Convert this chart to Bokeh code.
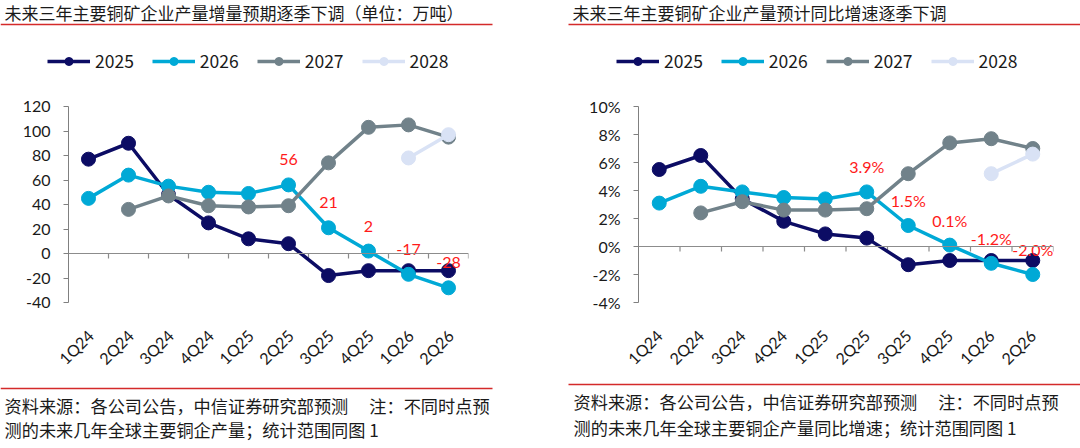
import math
from bokeh.plotting import figure
from bokeh.models import (Range1d, FixedTicker, Label, LegendItem, Legend, Span)
from bokeh.layouts import row, column
from bokeh.embed import file_html
from bokeh.resources import INLINE
from bokeh.core.properties import value

# ---------------- data ----------------
quarters = ["1Q24", "2Q24", "3Q24", "4Q24", "1Q25", "2Q25", "3Q25", "4Q25", "1Q26", "2Q26"]
series_years = ["2025", "2026", "2027", "2028"]

inc_2025 = [77, 90, 48, 25, 12, 8, -18, -14, -14, -14]
inc_2026 = [45, 64, 55, 50, 49, 56, 21, 2, -17, -28]
inc_2027 = [None, 36, 47, 39, 38, 39, 74, 103, 105, 95]
inc_2028 = [None, None, None, None, None, None, None, None, 78, 97]

yoy_2025 = [5.5, 6.5, 3.4, 1.8, 0.9, 0.6, -1.3, -1.0, -1.0, -1.0]
yoy_2026 = [3.1, 4.3, 3.9, 3.5, 3.4, 3.9, 1.5, 0.1, -1.2, -2.0]
yoy_2027 = [None, 2.4, 3.2, 2.6, 2.6, 2.7, 5.2, 7.4, 7.7, 7.0]
yoy_2028 = [None, None, None, None, None, None, None, None, 5.2, 6.6]

inc_ticks = [-40, -20, 0, 20, 40, 60, 80, 100, 120]
yoy_ticks = [-4, -2, 0, 2, 4, 6, 8, 10]

label_start = 5  # red labels on the 2026 series from 2Q25 on

title_left = "未来三年主要铜矿企业产量增量预期逐季下调（单位：万吨）"
title_right = "未来三年主要铜矿企业产量预计同比增速逐季下调"
note1 = "资料来源：各公司公告，中信证券研究部预测\u3000 注：不同时点预"
note2_left = "测的未来几年全球主要铜企产量；统计范围同图 1"
note2_right = "测的未来几年全球主要铜企产量同比增速；统计范围同图 1"

colors = ["#0c0c64", "#00a9d6", "#71828a", "#d9e2f5"]

CJK = "Noto Sans CJK SC"
NUM = "Lato"
TXT = "#1a1a1a"
RED_LINE = "#d42a2a"

PW = 540          # width of each panel
TOP_H = 80
MID_H = 300
BOT_H = 448 - TOP_H - MID_H


def blank(width, height):
    p = figure(width=width, height=height, output_backend="svg", toolbar_location=None,
               min_border=0, x_axis_location=None, y_axis_location=None,
               x_range=Range1d(0, width), y_range=Range1d(height, 0))
    p.grid.visible = False
    p.outline_line_color = None
    p.background_fill_color = None
    return p


def top_part(title, title_x, line_x0, line_x1, legend_x):
    p = blank(PW, TOP_H)
    p.add_layout(Label(x=title_x, y=12, text=title, text_font=CJK,
                       text_font_size="17px", text_color=TXT, text_baseline="middle",
                       text_align="left"))
    p.segment(x0=[line_x0], y0=[24], x1=[line_x1], y1=[24], line_color=RED_LINE,
              line_width=1.6)
    items = []
    hidden = [-100, -90]  # legend-only renderers, outside the visible range
    for col, yr in zip(colors, series_years):
        lr = p.line(x=hidden, y=hidden, line_color=col, line_width=3.5)
        sr = p.scatter(x=hidden, y=hidden, size=14, fill_color=col, line_color=col)
        items.append(LegendItem(label=yr, renderers=[lr, sr]))
    leg = Legend(items=items, orientation="horizontal", location=(legend_x, 7),
                 background_fill_alpha=0, border_line_alpha=0, glyph_width=43,
                 glyph_height=20, label_standoff=5, spacing=18, padding=0, margin=0,
                 label_text_font=CJK, label_text_font_size="17.5px",
                 label_text_color=TXT)
    p.add_layout(leg, "center")
    return p


def bottom_part(note2, line_x0, line_x1, line_y, note_x, ny1, ny2):
    p = blank(PW, BOT_H)
    p.segment(x0=[line_x0], y0=[line_y], x1=[line_x1], y1=[line_y], line_color=RED_LINE,
              line_width=1.6)
    for txt, yy in ((note1, ny1), (note2, ny2)):
        p.add_layout(Label(x=note_x, y=yy, text=txt, text_font=CJK,
                           text_font_size="17.2px", text_color=TXT,
                           text_baseline="middle", text_align="left"))
    return p


def chart(fl, fr, ft, fh, y0, y1, ticks, tick_fmt, series, labels, shift):
    fb = MID_H - ft - fh
    p = figure(width=PW, height=MID_H, output_backend="svg",
               toolbar_location=None, min_border_left=fl, min_border_right=fr,
               min_border_top=ft, min_border_bottom=fb,
               x_range=Range1d(0.5, len(quarters) + 0.5), y_range=Range1d(y0, y1))
    nx = len(quarters)
    p.grid.visible = False
    p.outline_line_color = None
    p.background_fill_color = None

    ya = p.yaxis[0]
    ya.ticker = FixedTicker(ticks=ticks)
    ya.major_label_overrides = {t: tick_fmt(t) for t in ticks}
    ya.axis_line_color = "#808080"
    ya.major_tick_line_color = "#808080"
    ya.major_tick_in = 0
    ya.major_tick_out = 5
    ya.minor_tick_line_color = None
    ya.major_label_text_font = NUM
    ya.major_label_text_font_size = "16px"
    ya.major_label_text_color = TXT
    ya.major_label_standoff = 13

    xs = list(range(1, nx + 1))
    lab_pos = [x + shift for x in xs]
    xa = p.xaxis[0]
    xa.ticker = FixedTicker(ticks=lab_pos)
    xa.major_label_overrides = {pos: q for pos, q in zip(lab_pos, quarters)}
    xa.axis_line_color = None
    xa.major_tick_line_color = None
    xa.minor_tick_line_color = None
    xa.major_label_orientation = math.pi / 4
    xa.major_label_text_font = NUM
    xa.major_label_text_font_size = "16px"
    xa.major_label_text_color = TXT
    xa.major_label_standoff = 24

    p.add_layout(Span(location=0, dimension="width", line_color="#8c8c8c", line_width=1.2))
    bounds = [i + 0.5 for i in range(1, nx + 1)]
    tlen = (y1 - y0) * 5.0 / fh
    p.segment(x0=bounds, y0=[0] * len(bounds), x1=bounds, y1=[-tlen] * len(bounds),
              line_color="#8c8c8c", line_width=1.2)

    for vals, col in zip(series, colors):
        xx = [x for x, v in zip(xs, vals) if v is not None]
        yy = [v for v in vals if v is not None]
        p.line(xx, yy, line_color=col, line_width=3.5)
        p.scatter(xx, yy, size=14, fill_color=col, line_color=col)

    p.text(x=xs[label_start:], y=series[1][label_start:], text=labels,
           text_align="center", text_baseline="middle", y_offset=-25,
           text_color="#ff1a1a", text_font=value(NUM), text_font_size="16px")
    return p


top_row = row(
    top_part(title_left, 4, 0, 492, 47),
    top_part(title_right, 32, 28, 540, 76),
)
mid_row = row(
    chart(68, 72, 105 - TOP_H, 200, -40, 120, inc_ticks, lambda t: str(t),
          [inc_2025, inc_2026, inc_2027, inc_2028],
          [str(v) for v in inc_2026[label_start:]], 0.05),
    chart(98, 27, 106 - TOP_H, 196, -4, 10, yoy_ticks, lambda t: f"{t}%",
          [yoy_2025, yoy_2026, yoy_2027, yoy_2028],
          [f"{v:.1f}%" for v in yoy_2026[label_start:]], 0.0),
)
bot_row = row(
    bottom_part(note2_left, 0, 492, 388 - TOP_H - MID_H, 4,
                405 - TOP_H - MID_H, 429 - TOP_H - MID_H),
    bottom_part(note2_right, 28, 540, 384 - TOP_H - MID_H, 33,
                401 - TOP_H - MID_H, 427 - TOP_H - MID_H),
)

layout = column(top_row, mid_row, bot_row)
open("out.html", "w").write(file_html(layout, INLINE))
